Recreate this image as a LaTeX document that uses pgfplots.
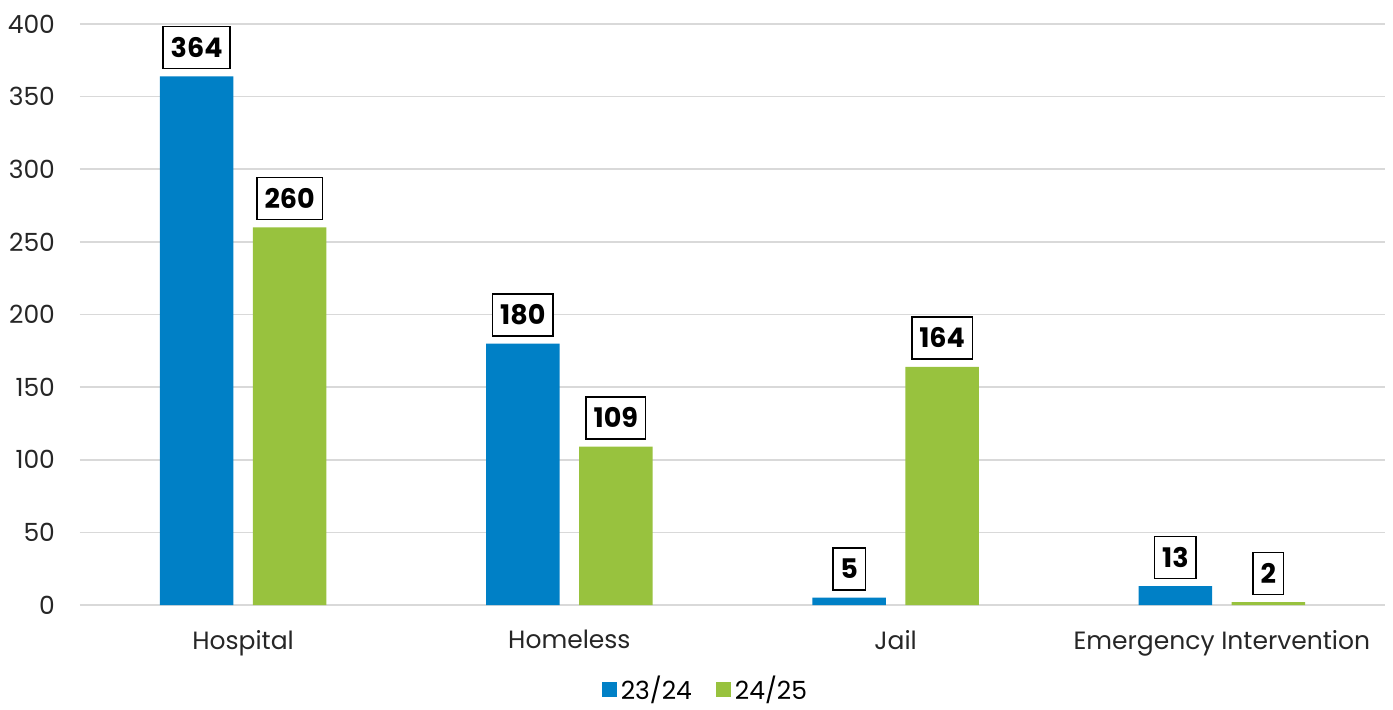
\documentclass[border=0pt]{standalone}
\usepackage{fontspec}
\setmainfont{Poppins}
\usepackage{pgfplots}
\pgfplotsset{compat=1.18}
\definecolor{cblue}{RGB}{0,128,198}
\definecolor{cgreen}{RGB}{152,194,62}
\definecolor{cgrid}{RGB}{217,217,217}
\begin{document}
\begin{tikzpicture}
\path[use as bounding box] (-40pt,-52pt) rectangle (656.5pt,302.5pt);
\begin{axis}[
  at={(0,0)}, anchor=south west,
  scale only axis,
  width=652.5pt, height=290.5pt,
  xmin=-0.5, xmax=3.5,
  ymin=0, ymax=400,
  ytick={0,50,...,400},
  xtick={0,1,2,3},
  xticklabels={Hospital,Homeless,Jail,Emergency Intervention},
  major tick length=0pt,
  axis x line*=bottom,
  axis y line*=left,
  y axis line style={draw=none},
  x axis line style={draw=cgrid, line width=0.8pt, -},
  ymajorgrids,
  grid style={draw=cgrid, line width=0.8pt},
  tick label style={font=\fontsize{12.5}{14}\selectfont, text=black!85},
  /pgf/number format/assume math mode=true,
  yticklabel style={xshift=-9pt},
  xticklabel style={yshift=-9pt},
  ybar,
  bar width=36.75pt,
  nodes near coords,
  every node near coord/.append style={font=\fontsize{13.5}{15}\selectfont\bfseries, draw=black, line width=0.8pt, fill=white, inner xsep=3.8pt, inner ysep=0pt, minimum height=21pt, anchor=south, yshift=3.5pt, text=black},
  legend style={at={(axis description cs:0.48,0)}, anchor=center, yshift=-42pt, draw=none, fill=none, inner sep=1pt, font=\fontsize{12.5}{14}\selectfont, legend columns=2, /tikz/every even column/.append style={column sep=10pt}},
  legend image code/.code={\fill[#1] (0pt,-3.75pt) rectangle (7.5pt,3.75pt);},
  clip=false,
]
\addplot[fill=cblue, draw=none, bar shift=-23.25pt] coordinates {(0,364) (1,180) (2,5) (3,13)};
\addplot[fill=cgreen, draw=none, bar shift=23.25pt] coordinates {(0,260) (1,109) (2,164) (3,2)};
\legend{23/24,24/25}
\end{axis}
\end{tikzpicture}
\end{document}
